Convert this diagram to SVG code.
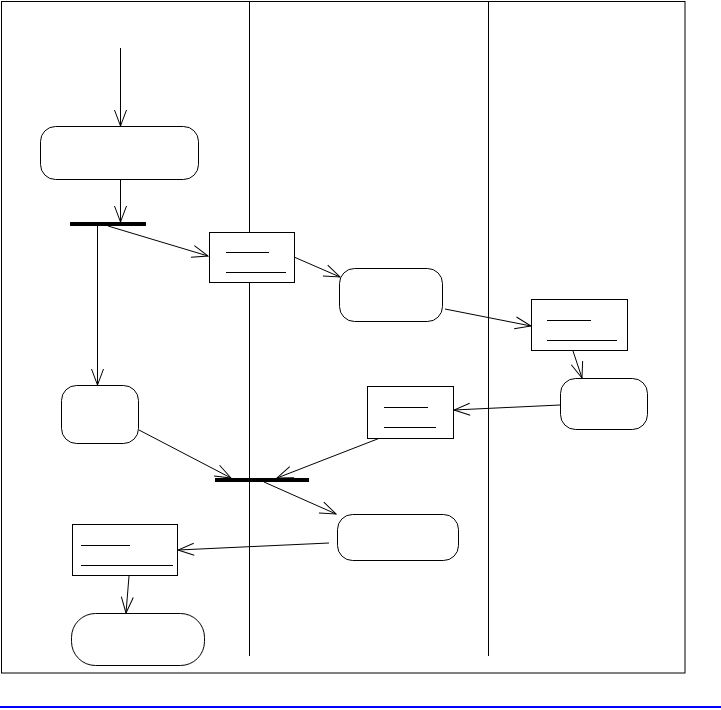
<svg xmlns="http://www.w3.org/2000/svg" width="721" height="710" viewBox="0 0 721 710">
<style>
.frame{fill:none;stroke:#000;stroke-width:1}
.lane{stroke:#000;stroke-width:1}
.act{fill:#fff;stroke:#000;stroke-width:1}
.obj{fill:#fff;stroke:#000;stroke-width:1}
.ul{stroke:#000;stroke-width:1}
.bar{fill:#000}
.flow{fill:none;stroke:#000;stroke-width:1;marker-end:url(#open)}
</style>
<defs>
<marker id="open" viewBox="-17 -8 18 16" markerWidth="18" markerHeight="16" refX="0" refY="0" orient="auto" markerUnits="userSpaceOnUse">
<path d="M-16,-6 L0,0 L-16,6" fill="none" stroke="#000" stroke-width="1"/>
</marker>
</defs>
<rect width="721" height="710" fill="#fff"/>
<g id="frame">
<rect class="frame" x="1.5" y="1.5" width="683.5" height="671.5"/>
<line class="lane" x1="249.5" y1="1" x2="249.5" y2="656"/>
<line class="lane" x1="488.5" y1="1" x2="488.5" y2="656"/>
</g>
<line x1="0" y1="707" x2="721" y2="707" stroke="#0000ff" stroke-width="2"/>
<g id="connectors">
<path class="flow" d="M120.5,48 L120.5,126"/>
<path class="flow" d="M120.5,179 L120.5,222"/>
<path class="flow" d="M97.5,226 L97.5,385"/>
<path class="flow" d="M108,226 L208,256"/>
<path class="flow" d="M294,257 L340,277"/>
<path class="flow" d="M445,309 L531,326"/>
<path class="flow" d="M573,351 L582,378"/>
<path class="flow" d="M560,405 L454,410"/>
<path class="flow" d="M139,430 L231,478"/>
<path class="flow" d="M380,438 L277,478"/>
<path class="flow" d="M264,482 L336,514"/>
<path class="flow" d="M329,543 L178,550"/>
<path class="flow" d="M129,576 L126,613"/>
</g>
<g id="node-action1"><rect class="act" x="40.5" y="126.5" width="158" height="53" rx="15"/></g>
<g id="node-fork"><rect class="bar" x="70" y="222" width="76" height="4"/></g>
<g id="node-object1">
<rect class="obj" x="209.5" y="232.5" width="85" height="50"/>
<line class="ul" x1="226" y1="252.5" x2="269" y2="252.5"/>
<line class="ul" x1="226" y1="272.5" x2="286" y2="272.5"/>
</g>
<g id="node-action3"><rect class="act" x="339.5" y="268.5" width="103" height="53" rx="15"/></g>
<g id="node-object2">
<rect class="obj" x="531.5" y="299.5" width="96" height="51"/>
<line class="ul" x1="547" y1="320.5" x2="591" y2="320.5"/>
<line class="ul" x1="547" y1="340.5" x2="617" y2="340.5"/>
</g>
<g id="node-action4"><rect class="act" x="560.5" y="378.5" width="87" height="51" rx="15"/></g>
<g id="node-object3">
<rect class="obj" x="367.5" y="386.5" width="86" height="52"/>
<line class="ul" x1="384" y1="407.5" x2="428" y2="407.5"/>
<line class="ul" x1="384" y1="427.5" x2="436" y2="427.5"/>
</g>
<g id="node-action2"><rect class="act" x="61.5" y="385.5" width="77" height="58" rx="15"/></g>
<g id="node-join"><rect class="bar" x="215" y="478" width="94" height="4"/></g>
<g id="node-action5"><rect class="act" x="337.5" y="514.5" width="121" height="46" rx="15"/></g>
<g id="node-object4">
<rect class="obj" x="72.5" y="524.5" width="105" height="51"/>
<line class="ul" x1="81" y1="545.5" x2="130" y2="545.5"/>
<line class="ul" x1="81" y1="565.5" x2="173" y2="565.5"/>
</g>
<g id="node-action6"><rect class="act" x="71.5" y="613.5" width="133" height="52" rx="24"/></g>
</svg>
